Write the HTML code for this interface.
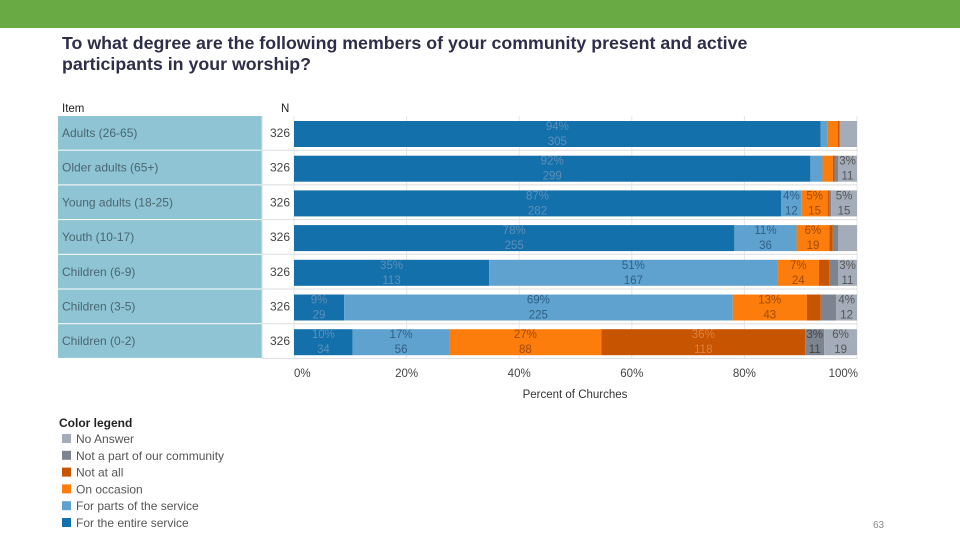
<!DOCTYPE html>
<html><head><meta charset="utf-8"><style>
body{margin:0;width:960px;height:540px;background:#fff;font-family:"Liberation Sans",sans-serif;overflow:hidden;position:relative}
.t{position:absolute}
</style></head><body>
<div class="t" style="left:0;top:0;width:960px;height:28px;background:#6aaa45"></div>
<div class="t" style="left:62px;top:33px;font-size:17.8px;font-weight:bold;color:#2e2e48;line-height:21px">To what degree are the following members of your community present and active<br>participants in your worship?</div>
<svg class="t" style="left:0;top:0" width="960" height="540" id="svg"></svg>
<div class="t" style="left:873px;top:520px;font-size:10px;color:#888">63</div>
<script>
const items=["Adults (26-65)","Older adults (65+)","Young adults (18-25)","Youth (10-17)","Children (6-9)","Children (3-5)","Children (0-2)"];
const nValues=[326,326,326,326,326,326,326];
const entire=[305,299,282,255,113,29,34];
const parts=[4,7,12,36,167,225,56];
const occasion=[6,6,15,19,24,43,88];
const notAtAll=[1,1,1,2,6,8,118];
const notPart=[0,2,1,3,5,9,11];
const noAnswer=[10,11,15,11,11,12,19];
const hideLabels=[[],[],[],[5],[],[],[]];
const xTicks=[0,20,40,60,80,100];
const legendLabels=["No Answer","Not a part of our community","Not at all","On occasion","For parts of the service","For the entire service"];
const series=[entire,parts,occasion,notAtAll,notPart,noAnswer];
const colors=["#1470aa","#5fa2cf","#fc7d0b","#c65400","#7b848f","#a4acb9"];
const txtColors=["#5d8fba","#2f5f86","#a04a00","#e08040","#444","#555"];
const svg=document.getElementById('svg');
const NS="http://www.w3.org/2000/svg";
function mk(tag,attrs,name,parent){const e=document.createElementNS(NS,tag);for(const k in attrs)e.setAttribute(k,attrs[k]);


(parent||svg).appendChild(e);return e;}
const x0=294,x1=857,top0=116,rowH=34.7;
const xs=p=>x0+(x1-x0)*p/100;
const ry=i=>top0+i*rowH;
let t=mk('text',{x:62,y:112,'font-size':11.5,fill:'#222'},'item-header');t.textContent="Item";
t=mk('text',{x:281,y:112,'font-size':11.5,fill:'#222'},'n-header');t.textContent="N";
xTicks.forEach(v=>{mk('line',{x1:xs(v),x2:xs(v),y1:top0,y2:ry(items.length),stroke:'#e6e6e6'},'gridline');
let tt=mk('text',{x:xs(v),y:377,'font-size':11.5,fill:'#444','text-anchor':v==100?'end':(v==0?'start':'middle')},'x-tick-label');tt.textContent=v+"%";
if(v==100)tt.setAttribute('x',x1+1);if(v==0)tt.setAttribute('x',x0);});
t=mk('text',{x:575,y:398,'font-size':11.5,fill:'#333','text-anchor':'middle'},'x-axis-title');t.textContent="Percent of Churches";
items.forEach((it,i)=>{
 const y=ry(i);
 mk('rect',{x:58,y:y,width:204,height:rowH-1,fill:'#8ec4d4'},'item-cell');
 let a=mk('text',{x:62,y:y+21,'font-size':12,fill:'#4a6670'},'item-label');a.textContent=it;
 a=mk('text',{x:290,y:y+21,'font-size':12,fill:'#444','text-anchor':'end'},'n-value');a.textContent=nValues[i];
 mk('line',{x1:262,x2:x1,y1:y+rowH-0.5,y2:y+rowH-0.5,stroke:'#ddd'},'row-separator');
 let cum=0;
 series.forEach((s,k)=>{
  const v=s[i];const p0=cum/nValues[i]*100;cum+=v;const p1=cum/nValues[i]*100;
  if(v<=0)return;
  mk('rect',{x:xs(p0),y:y+5,width:xs(p1)-xs(p0),height:26,fill:colors[k]},'bar-segment');
  if(v>=11&&!hideLabels[i].includes(k)){
   const cx=(xs(p0)+xs(p1))/2;
   let l=mk('text',{x:cx,y:y+14,'font-size':11.5,fill:txtColors[k],'text-anchor':'middle'},'bar-percent-label');l.textContent=Math.round(v/nValues[i]*100)+"%";
   l=mk('text',{x:cx,y:y+29,'font-size':11.5,fill:txtColors[k],'text-anchor':'middle'},'bar-count-label');l.textContent=v;
  }
 });
});
mk('line',{x1:262,x2:262,y1:top0,y2:ry(items.length),stroke:'#ddd'},'n-column-border');
t=mk('text',{x:59,y:427,'font-size':12,fill:'#222','font-weight':'600'},'legend-title');t.textContent="Color legend";
legendLabels.forEach((l,j)=>{const y=434+j*16.8;const c=colors[5-j];
 mk('rect',{x:62,y:y,width:9,height:9,fill:c},'legend-swatch');
 let e=mk('text',{x:76,y:y+9,'font-size':12,fill:'#555'},'legend-entry');e.textContent=l;});
</script>
</body></html>
